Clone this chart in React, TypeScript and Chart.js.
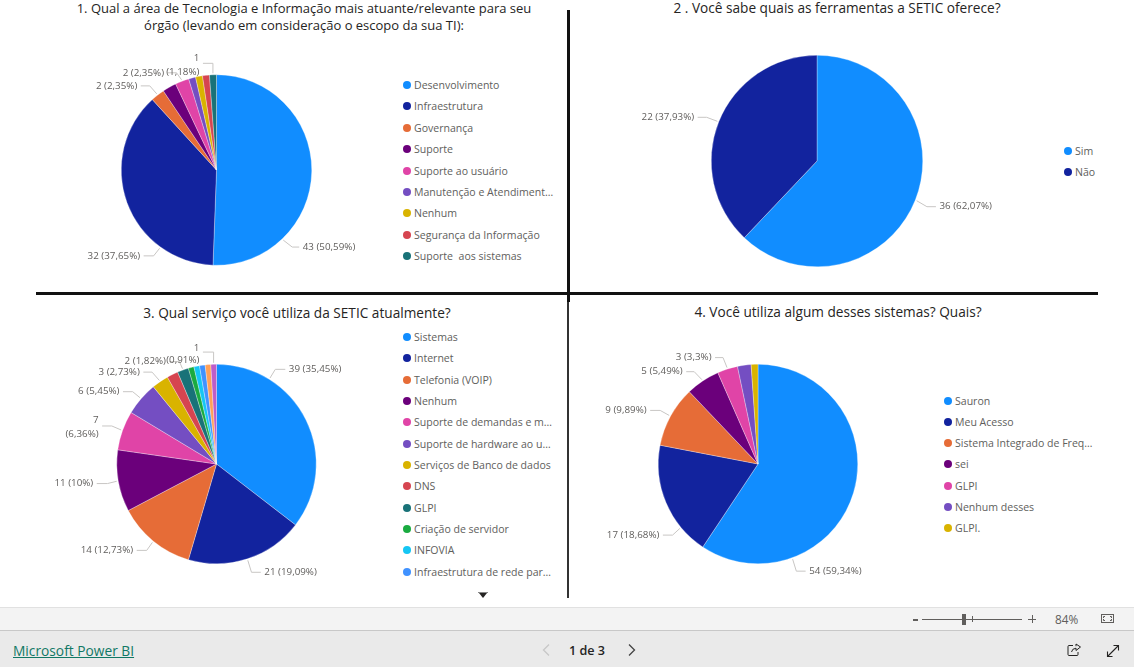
import React, { useEffect, useRef } from "react";
import { Chart, registerables } from "chart.js";

Chart.register(...registerables);

const palette = ["#118DFF", "#12239E", "#E66C37", "#6B007B", "#E044A7", "#744EC2", "#D9B300", "#D64550", "#197278", "#1AAB40", "#15C6F4", "#4092FF", "#FFA058", "#BE5DC9"];

const labels1 = ["Desenvolvimento", "Infraestrutura", "Governança", "Suporte", "Suporte ao usuário", "Manutenção e Atendiment…", "Nenhum", "Segurança da Informação", "Suporte  aos sistemas"];
const values1 = [43, 32, 2, 2, 2, 1, 1, 1, 1];

const labels2 = ["Sim", "Não"];
const values2 = [36, 22];

const labels3 = ["Sistemas", "Internet", "Telefonia (VOIP)", "Nenhum", "Suporte de demandas e m…", "Suporte de hardware ao u…", "Serviços de Banco de dados", "DNS", "GLPI", "Criação de servidor", "INFOVIA", "Infraestrutura de rede par…"];
const values3 = [39, 21, 14, 11, 7, 6, 3, 2, 2, 1, 1, 1, 1, 1];

const labels4 = ["Sauron", "Meu Acesso", "Sistema Integrado de Freq…", "sei", "GLPI", "Nenhum desses", "GLPI."];
const values4 = [54, 17, 9, 5, 3, 2, 1];

const title1 = ["1. Qual a área de Tecnologia e Informação mais atuante/relevante para seu", "órgão (levando em consideração o escopo da sua TI):"];
const title2 = ["2 . Você sabe quais as ferramentas a SETIC oferece?"];
const title3 = ["3. Qual serviço você utiliza da SETIC atualmente?"];
const title4 = ["4. Você utiliza algum desses sistemas? Quais?"];

type Leader = { i: number; a?: number; ex: number; ey: number; run: number; wrap?: [number, number] };

const leaders1: Leader[] = [
  { i: 0, a: 136.4, ex: 9, ey: 7, run: 7 },
  { i: 1, a: 216, ex: -6, ey: 7.6, run: -10 },
  { i: 2, ex: -7, ey: -8, run: -9 },
  { i: 4, ex: -5, ey: -7, run: -9 },
  { i: 8, ex: 0, ey: -10, run: -10, wrap: [-5, 9] },
];
const leaders2: Leader[] = [
  { i: 0, ex: 10.3, ey: 6, run: 9 },
  { i: 1, ex: -10.7, ey: -4, run: -9 },
];
const leaders3: Leader[] = [
  { i: 0, a: 31.9, ex: 5.3, ey: -8.7, run: 10 },
  { i: 1, ex: 3.7, ey: 12, run: 9.3 },
  { i: 2, ex: -5.7, ey: 8, run: -10 },
  { i: 3, ex: -9.3, ey: 2.3, run: -10.7 },
  { i: 4, ex: -9.3, ey: -4, run: -9.7, wrap: [-6, 8] },
  { i: 5, ex: -7.3, ey: -6, run: -9.7 },
  { i: 6, ex: -7.3, ey: -8.3, run: -8.7 },
  { i: 8, ex: -3, ey: -7, run: -10 },
  { i: 13, ex: 0, ey: -10.7, run: -10.7, wrap: [-4, 8] },
];
const leaders4: Leader[] = [
  { i: 0, a: 160, ex: 3.7, ey: 12, run: 9.3 },
  { i: 1, a: 230.5, ex: -7.3, ey: 6.7, run: -9.7 },
  { i: 2, ex: -9, ey: -5, run: -10 },
  { i: 3, ex: -7.7, ey: -8, run: -8 },
  { i: 4, ex: -4, ey: -10, run: -8 },
];

const FONT = '"Open Sans", sans-serif';

const leaderPlugin = (leaders: Leader[], values: number[]) => ({
  id: "leaders",
  afterDraw(chart: any) {
    const ctx = chart.ctx;
    const total = values.reduce((a, b) => a + b, 0);
    const arcs = chart.getDatasetMeta(0).data;
    ctx.save();
    ctx.font = `9.8px ${FONT}`;
    ctx.textBaseline = "middle";
    for (const l of leaders) {
      const arc = arcs[l.i];
      const mid = (arc.startAngle + arc.endAngle) / 2 + Math.PI / 2;
      const ang = l.a !== undefined ? (l.a * Math.PI) / 180 : mid;
      const sx = arc.x + (arc.outerRadius + 1.5) * Math.sin(ang);
      const sy = arc.y - (arc.outerRadius + 1.5) * Math.cos(ang);
      const ex = sx + l.ex;
      const ey = sy + l.ey;
      const fx = ex + l.run;
      ctx.strokeStyle = "#C8C6C4";
      ctx.lineWidth = 1;
      ctx.beginPath();
      ctx.moveTo(sx, sy);
      ctx.lineTo(ex, ey);
      ctx.lineTo(fx, ey);
      ctx.stroke();
      const right = l.run < 0;
      ctx.textAlign = right ? "right" : "left";
      ctx.fillStyle = "#605E5C";
      const tx = fx + (right ? -3.5 : 3.5);
      const value = String(values[l.i]);
      const pct = `(${String(Math.round((values[l.i] / total) * 10000) / 100).replace(".", ",")}%)`;
      if (l.wrap) {
        ctx.fillText(value, tx, ey + l.wrap[0]);
        ctx.fillText(pct, tx, ey + l.wrap[1]);
      } else {
        ctx.fillText(`${value} ${pct}`, tx, ey);
      }
    }
    ctx.restore();
  },
});

function Pie({ values, leaders, box, cx, cy, r }: { values: number[]; leaders: Leader[]; box: number[]; cx: number; cy: number; r: number }) {
  const ref = useRef<HTMLCanvasElement | null>(null);
  const [x0, y0, w, h] = box;
  useEffect(() => {
    const chart = new Chart(ref.current!, {
      type: "pie",
      data: {
        labels: values.map((_, i) => String(i)),
        datasets: [{ data: values, backgroundColor: palette.slice(0, values.length), borderColor: "rgba(255,255,255,0.6)", borderWidth: 0.5 }],
      },
      options: {
        animation: false,
        responsive: false,
        layout: { padding: { left: cx - r - x0, right: x0 + w - cx - r, top: cy - r - y0, bottom: y0 + h - cy - r } },
        plugins: { legend: { display: false }, tooltip: { enabled: false }, title: { display: false } },
      },
      plugins: [leaderPlugin(leaders, values)],
    } as any);
    return () => chart.destroy();
  }, []);
  return <canvas ref={ref} width={w} height={h} style={{ position: "absolute", left: x0, top: y0, width: w, height: h }} />;
}

function Legend({ items, dotX, ys }: { items: string[]; dotX: number; ys: number[] }) {
  return (
    <>
      {items.map((t, i) => (
        <React.Fragment key={i}>
          <div style={{ position: "absolute", left: dotX - 4, top: ys[i] - 4, width: 8, height: 8, borderRadius: 4, background: palette[i] }} />
          <div style={{ position: "absolute", left: dotX + 7, top: ys[i] - 8, height: 16, font: `10.55px/16px ${FONT}`, color: "#605E5C", whiteSpace: "pre" }}>{t}</div>
        </React.Fragment>
      ))}
    </>
  );
}

function Title({ lines, cx, top, size }: { lines: string[]; cx: number; top: number; size: number }) {
  return (
    <div style={{ position: "absolute", left: cx - 280, width: 560, top, textAlign: "center", font: `${size}px/17px ${FONT}`, color: "#252423", whiteSpace: "pre" }}>
      {lines.map((l, i) => <div key={i}>{l}</div>)}
    </div>
  );
}

const abs = (left: number, top: number, width: number, height: number, background: string): React.CSSProperties => ({ position: "absolute", left, top, width, height, background });

export default function App() {
  return (
    <div style={{ position: "absolute", left: 0, top: 0, width: 1134, height: 667, overflow: "hidden", background: "#fff", fontFamily: FONT }}>
      <Title lines={title1} cx={304} top={0} size={13} />
      <Title lines={title2} cx={837} top={-1} size={13.65} />
      <Title lines={title3} cx={297} top={304} size={13.65} />
      <Title lines={title4} cx={838} top={303} size={13.65} />

      <Pie values={values1} leaders={leaders1} box={[20, 30, 380, 258]} cx={216.5} cy={170} r={95.5} />
      <Pie values={values2} leaders={leaders2} box={[600, 30, 450, 258]} cx={817} cy={161} r={106} />
      <Pie values={values3} leaders={leaders3} box={[20, 325, 380, 272]} cx={216.5} cy={464} r={100} />
      <Pie values={values4} leaders={leaders4} box={[590, 325, 340, 272]} cx={758} cy={464} r={100} />

      <Legend items={labels1} dotX={407} ys={[85, 106, 128, 149, 171, 192, 213, 235, 256]} />
      <Legend items={labels2} dotX={1068} ys={[151, 172]} />
      <Legend items={labels3} dotX={407} ys={[337, 358, 380, 401, 422, 444, 465, 486, 508, 529, 550, 572]} />
      <Legend items={labels4} dotX={948} ys={[401, 422, 443, 464, 486, 507, 528]} />

      <div style={abs(567, 10, 3, 292, "#111")} />
      <div style={abs(567, 302, 2, 296, "#333")} />
      <div style={abs(36, 292, 1062, 3, "#111")} />

      <svg style={{ position: "absolute", left: 477, top: 591 }} width={12} height={8}>
        <rect x={1} y={1} width={10} height={1} fill="#888" />
        <path d="M2 2 L10 2 L6 7 Z" fill="#252423" />
      </svg>

      <div style={abs(0, 607, 1134, 23, "#F3F3F3")} />
      <div style={abs(0, 607, 1134, 1, "#E1E1E1")} />
      <div style={abs(0, 630, 1134, 37, "#EAEAEA")} />
      <div style={abs(0, 630, 1134, 1, "#C8C8C8")} />

      <div style={abs(913, 619, 5, 2, "#605E5C")} />
      <div style={abs(922, 619, 100, 1, "#605E5C")} />
      <div style={abs(962, 614, 4, 11, "#605E5C")} />
      <div style={abs(972, 616, 1, 6, "#605E5C")} />
      <div style={abs(1028, 619, 8, 1, "#605E5C")} />
      <div style={abs(1031.5, 615, 1, 8, "#605E5C")} />
      <div style={{ position: "absolute", left: 1055, top: 611, font: `11.8px/16px ${FONT}`, color: "#605E5C" }}>84%</div>
      <svg style={{ position: "absolute", left: 1100, top: 613 }} width={16} height={12} fill="none" stroke="#605E5C">
        <rect x={1.5} y={1.5} width={12} height={8} />
        <path d="M3.5 5 V3.5 H5 M10 3.5 H11.5 V5 M11.5 6 V7.5 H10 M5 7.5 H3.5 V6" />
      </svg>

      <a style={{ position: "absolute", left: 13, top: 642, font: `13.75px/18px ${FONT}`, color: "#117865", textDecoration: "underline" }}>Microsoft Power BI</a>
      <div style={{ position: "absolute", left: 569, top: 642, font: `600 12.6px/17px ${FONT}`, color: "#252423" }}>1 de 3</div>
      <svg style={{ position: "absolute", left: 541, top: 643 }} width={10} height={14} fill="none" stroke="#C8C8C8" strokeWidth={1.3}>
        <path d="M8 1.5 L2.5 7 L8 12.5" />
      </svg>
      <svg style={{ position: "absolute", left: 627, top: 643 }} width={10} height={14} fill="none" stroke="#444" strokeWidth={1.3}>
        <path d="M2 1.5 L7.5 7 L2 12.5" />
      </svg>
      <svg style={{ position: "absolute", left: 1067, top: 643 }} width={15} height={14} fill="none" stroke="#252423" strokeWidth={1}>
        <path d="M6 2.5 H2 Q1 2.5 1 3.5 V11.5 Q1 12.5 2 12.5 H10 Q11 12.5 11 11.5 V9" />
        <path d="M4.5 9 Q5 5.5 9 5.2 V7.5 L13.5 4 L9 1 V3.2" />
      </svg>
      <svg style={{ position: "absolute", left: 1106, top: 644 }} width={14} height={14} fill="none" stroke="#252423" strokeWidth={1.1}>
        <path d="M1.5 12.5 L12.5 1.5 M7.5 1.5 H12.5 V6.5 M1.5 7.5 V12.5 H6.5" />
      </svg>
    </div>
  );
}
